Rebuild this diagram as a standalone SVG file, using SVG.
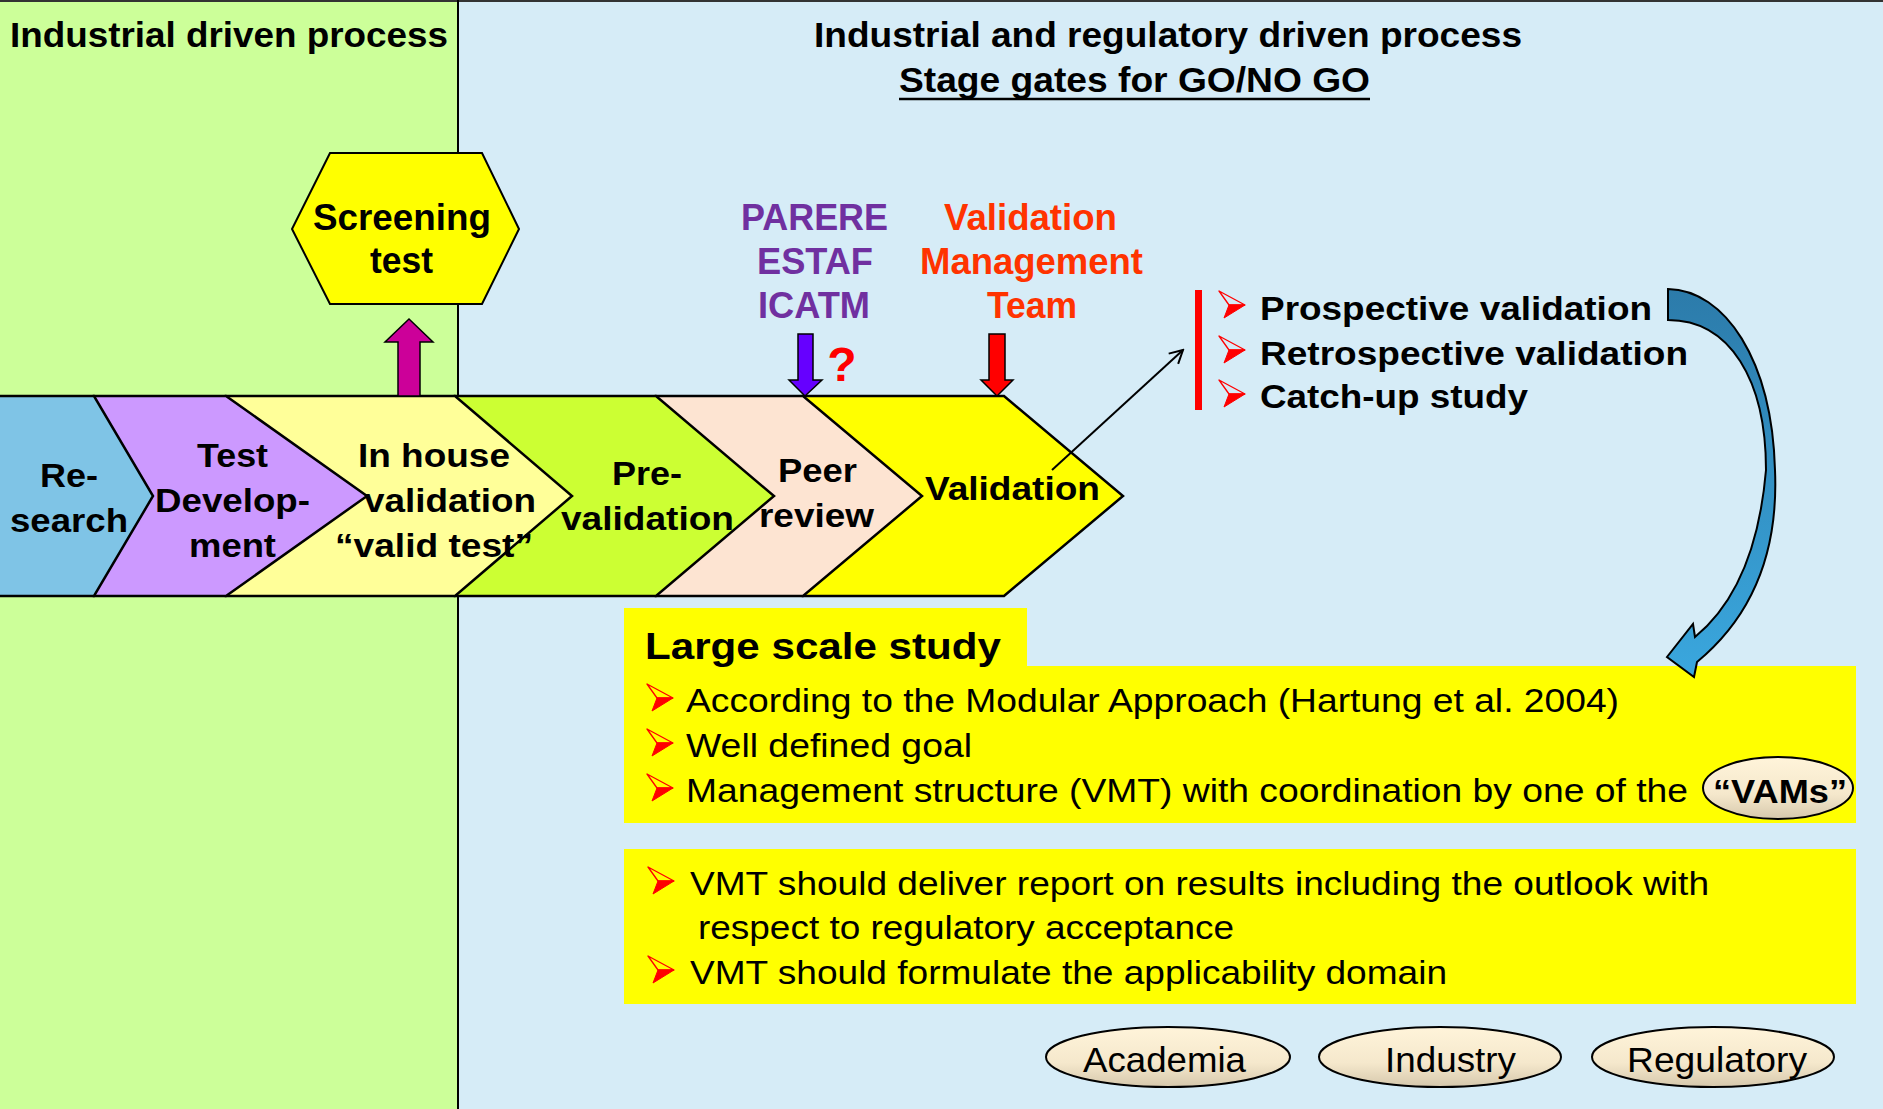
<svg xmlns="http://www.w3.org/2000/svg" width="1883" height="1109" viewBox="0 0 1883 1109">
<style>
.b{font-family:"Liberation Sans",Arial,sans-serif;font-weight:bold;fill:#000}
.r{font-family:"Liberation Sans",Arial,sans-serif;fill:#000}
.ch{stroke:#000;stroke-width:2.5;stroke-linejoin:miter}
.bx{fill:#FFFF00}
.el{fill:url(#eg);stroke:#000;stroke-width:2}
.ar{stroke:#000;stroke-width:1.5}
</style>
<defs>
<linearGradient id="eg" x1="0" y1="0" x2="0" y2="1">
<stop offset="0" stop-color="#FFF4DA"/><stop offset="0.6" stop-color="#F5E8CC"/><stop offset="1" stop-color="#D6C8AC"/>
</linearGradient>
<linearGradient id="cg" x1="0" y1="0" x2="0" y2="1">
<stop offset="0" stop-color="#2C7BAA"/><stop offset="1" stop-color="#3AA7DE"/>
</linearGradient>
<g id="bul">
<path d="M0,0 L26,14 L10,14 Z" fill="none" stroke="#FF0000" stroke-width="1.3" stroke-linejoin="round"/>
<path d="M10,14 L26,14 L5,27 Z" fill="#FF0000" stroke="#FF0000" stroke-width="1"/>
</g>
<marker id="open" markerWidth="16" markerHeight="16" refX="14" refY="8" orient="auto" markerUnits="userSpaceOnUse">
<path d="M1,1 L14,8 L1,15" fill="none" stroke="#000" stroke-width="2"/>
</marker>
</defs>

<g id="background">
<rect x="0" y="0" width="459" height="1109" fill="#CCFF99"/>
<rect x="459" y="0" width="1424" height="1109" fill="#D6ECF7"/>
<line x1="0" y1="1" x2="1883" y2="1" stroke="#333" stroke-width="2"/>
<line x1="458" y1="0" x2="458" y2="1109" stroke="#000" stroke-width="2"/>
</g>

<g id="headers">
<text class="b" x="10" y="47" font-size="35" textLength="438" lengthAdjust="spacingAndGlyphs">Industrial driven process</text>
<text class="b" x="814" y="47" font-size="35" textLength="708" lengthAdjust="spacingAndGlyphs">Industrial and regulatory driven process</text>
<text class="b" x="899" y="92" font-size="35" textLength="471" lengthAdjust="spacingAndGlyphs">Stage gates for GO/NO GO</text>
<line x1="899" y1="99" x2="1370" y2="99" stroke="#000" stroke-width="2.5"/>
</g>

<g id="screening-test">
<polygon points="330,153 482,153 519,229 482,304 330,304 292,229" fill="#FFFF00" stroke="#000" stroke-width="2"/>
<text class="b" x="313" y="230" font-size="36" textLength="178" lengthAdjust="spacingAndGlyphs">Screening</text>
<text class="b" x="370" y="273" font-size="36" textLength="63" lengthAdjust="spacingAndGlyphs">test</text>
</g>

<g id="parere">
<text class="b" x="741" y="230" font-size="36" style="fill:#7030A0" textLength="147" lengthAdjust="spacingAndGlyphs">PARERE</text>
<text class="b" x="757" y="274" font-size="36" style="fill:#7030A0" textLength="116" lengthAdjust="spacingAndGlyphs">ESTAF</text>
<text class="b" x="758" y="318" font-size="36" style="fill:#7030A0" textLength="112" lengthAdjust="spacingAndGlyphs">ICATM</text>
</g>
<g id="vmt-label">
<text class="b" x="944" y="230" font-size="36" style="fill:#FF3300" textLength="173" lengthAdjust="spacingAndGlyphs">Validation</text>
<text class="b" x="920" y="274" font-size="36" style="fill:#FF3300" textLength="223" lengthAdjust="spacingAndGlyphs">Management</text>
<text class="b" x="987" y="318" font-size="36" style="fill:#FF3300" textLength="90" lengthAdjust="spacingAndGlyphs">Team</text>
</g>
<g id="question">
<text class="b" x="842" y="381" font-size="48" text-anchor="middle" style="fill:#FF0000">?</text>
</g>

<g id="chevrons">
<polygon class="ch" points="803,396 1004,396 1123,496 1004,596 803,596" fill="#FFFF00"/>
<polygon class="ch" points="656,396 803,396 922,496 803,596 656,596" fill="#FDE4D2"/>
<polygon class="ch" points="455,396 656,396 774,496 656,596 455,596" fill="#CCFF33"/>
<polygon class="ch" points="226,396 455,396 572,496 455,596 226,596" fill="#FFFF99"/>
<polygon class="ch" points="94,396 226,396 367,496 226,596 94,596" fill="#CC99FF"/>
<polygon class="ch" points="-5,396 94,396 153,496 94,596 -5,596" fill="#7FC4E6"/>
</g>

<g id="chevron-research">
<text class="b" x="40" y="487" font-size="34" textLength="58" lengthAdjust="spacingAndGlyphs">Re-</text>
<text class="b" x="10" y="532" font-size="34" textLength="118" lengthAdjust="spacingAndGlyphs">search</text>
</g>
<g id="chevron-testdev">
<text class="b" x="197" y="467" font-size="34" textLength="71" lengthAdjust="spacingAndGlyphs">Test</text>
<text class="b" x="155" y="512" font-size="34" textLength="155" lengthAdjust="spacingAndGlyphs">Develop-</text>
<text class="b" x="189" y="557" font-size="34" textLength="87" lengthAdjust="spacingAndGlyphs">ment</text>
</g>
<g id="chevron-inhouse">
<text class="b" x="358" y="467" font-size="34" textLength="152" lengthAdjust="spacingAndGlyphs">In house</text>
<text class="b" x="364" y="512" font-size="34" textLength="172" lengthAdjust="spacingAndGlyphs">validation</text>
<text class="b" x="335" y="557" font-size="34" textLength="198" lengthAdjust="spacingAndGlyphs">“valid test”</text>
</g>
<g id="chevron-prevalidation">
<text class="b" x="612" y="485" font-size="34" textLength="70" lengthAdjust="spacingAndGlyphs">Pre-</text>
<text class="b" x="561" y="530" font-size="34" textLength="173" lengthAdjust="spacingAndGlyphs">validation</text>
</g>
<g id="chevron-peer">
<text class="b" x="778" y="482" font-size="34" textLength="79" lengthAdjust="spacingAndGlyphs">Peer</text>
<text class="b" x="759" y="527" font-size="34" textLength="115" lengthAdjust="spacingAndGlyphs">review</text>
</g>
<g id="chevron-validation">
<text class="b" x="925" y="500" font-size="34" textLength="175" lengthAdjust="spacingAndGlyphs">Validation</text>
</g>

<g id="validation-types">
<rect x="1195" y="290" width="7" height="120" fill="#FF0000"/>
<use href="#bul" x="1219" y="291"/>
<use href="#bul" x="1219" y="336"/>
<use href="#bul" x="1219" y="380"/>
<text class="b" x="1260" y="320" font-size="34" textLength="392" lengthAdjust="spacingAndGlyphs">Prospective validation</text>
<text class="b" x="1260" y="365" font-size="34" textLength="428" lengthAdjust="spacingAndGlyphs">Retrospective validation</text>
<text class="b" x="1260" y="408" font-size="34" textLength="268" lengthAdjust="spacingAndGlyphs">Catch-up study</text>
</g>

<g id="large-scale-study">
<rect class="bx" x="624" y="608" width="403" height="60"/>
<rect class="bx" x="624" y="666" width="1232" height="157"/>
<text class="b" x="645" y="659" font-size="37" textLength="356" lengthAdjust="spacingAndGlyphs">Large scale study</text>
<use href="#bul" x="647" y="684"/>
<use href="#bul" x="647" y="729"/>
<use href="#bul" x="647" y="774"/>
<text class="r" x="686" y="712" font-size="34" textLength="933" lengthAdjust="spacingAndGlyphs">According to the Modular Approach (Hartung et al. 2004)</text>
<text class="r" x="686" y="757" font-size="34" textLength="286" lengthAdjust="spacingAndGlyphs">Well defined goal</text>
<text class="r" x="686" y="802" font-size="34" textLength="1002" lengthAdjust="spacingAndGlyphs">Management structure (VMT) with coordination by one of the</text>
</g>
<g id="vams">
<ellipse class="el" cx="1778" cy="788" rx="75" ry="31"/>
<text class="b" x="1713" y="803" font-size="34" textLength="134" lengthAdjust="spacingAndGlyphs">“VAMs”</text>
</g>

<g id="vmt-tasks">
<rect class="bx" x="624" y="849" width="1232" height="155"/>
<use href="#bul" x="648" y="867"/>
<use href="#bul" x="648" y="956"/>
<text class="r" x="690" y="895" font-size="34" textLength="1019" lengthAdjust="spacingAndGlyphs">VMT should deliver report on results including the outlook with</text>
<text class="r" x="698" y="939" font-size="34" textLength="536" lengthAdjust="spacingAndGlyphs">respect to regulatory acceptance</text>
<text class="r" x="690" y="984" font-size="34" textLength="757" lengthAdjust="spacingAndGlyphs">VMT should formulate the applicability domain</text>
</g>

<g id="academia">
<ellipse class="el" cx="1168" cy="1057" rx="122" ry="30"/>
<text class="r" x="1083" y="1072" font-size="35" textLength="163" lengthAdjust="spacingAndGlyphs">Academia</text>
</g>
<g id="industry">
<ellipse class="el" cx="1440" cy="1057" rx="121" ry="30"/>
<text class="r" x="1385" y="1072" font-size="35" textLength="131" lengthAdjust="spacingAndGlyphs">Industry</text>
</g>
<g id="regulatory">
<ellipse class="el" cx="1713" cy="1057" rx="121" ry="30"/>
<text class="r" x="1627" y="1072" font-size="35" textLength="180" lengthAdjust="spacingAndGlyphs">Regulatory</text>
</g>

<g id="connectors">
<polygon class="ar" points="398,396 398,342 385,342 409,319 433,342 420,342 420,396" fill="#CC0099"/>
<polygon class="ar" points="798,334 813,334 813,380 822,380 805,396 789,380 798,380" fill="#6600FF"/>
<polygon class="ar" points="989,334 1005,334 1005,380 1013,380 997,396 981,380 989,380" fill="#FF0000"/>
<line x1="1052" y1="470" x2="1183" y2="350" stroke="#000" stroke-width="2" marker-end="url(#open)"/>
<path d="M1668,289 C1725,290 1772,360 1775,470 C1778,540 1760,610 1697,662 L1694,677 L1667,657 L1693,624 L1695,637 C1740,600 1760,540 1766,470 C1766,380 1730,320 1668,320 Z" fill="url(#cg)" stroke="#000" stroke-width="2" stroke-linejoin="miter"/>
</g>
</svg>
